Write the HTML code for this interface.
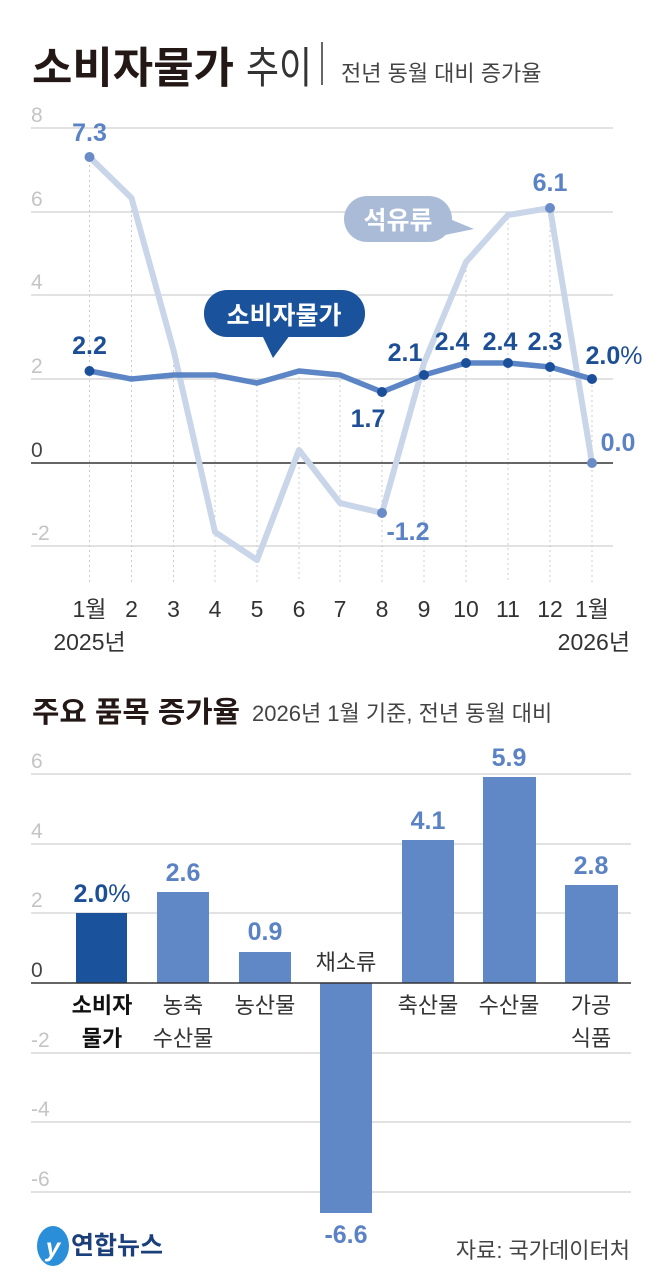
<!DOCTYPE html>
<html><head><meta charset="utf-8"><style>
html,body{margin:0;padding:0;background:#fff}
svg{display:block}
text{font-family:"Liberation Sans","Noto Sans CJK KR",sans-serif}
.ax{fill:#c4c4c4;font-size:21px}
.xl{fill:#333;font-size:23px}
.nv{fill:#1d4f97;font-size:25px;font-weight:bold}
.lb{fill:#5a82c4;font-size:25px;font-weight:bold}
.cat{fill:#333;font-size:22px}
</style></head><body>
<svg width="655" height="1278" viewBox="0 0 655 1278" xmlns="http://www.w3.org/2000/svg">
<text x="32" y="83" font-size="43" font-weight="bold" fill="#231815" textLength="202" lengthAdjust="spacingAndGlyphs">소비자물가</text>
<text x="246" y="83" font-size="43" fill="#333" textLength="66" lengthAdjust="spacingAndGlyphs">추이</text>
<line x1="322" y1="42" x2="322" y2="85" stroke="#333" stroke-width="1.5"/>
<text x="341" y="81" font-size="22" fill="#444">전년 동월 대비 증가율</text>

<g stroke="#d0d0d0" stroke-width="1.2">
<line x1="31" y1="128" x2="613" y2="128"/><line x1="31" y1="212" x2="613" y2="212"/>
<line x1="31" y1="295" x2="613" y2="295"/><line x1="31" y1="379" x2="613" y2="379"/>
<line x1="31" y1="546" x2="613" y2="546"/>
</g>
<g stroke="#ccc" stroke-width="1" stroke-dasharray="2,3">
<line x1="89.5" y1="160" x2="89.5" y2="582"/><line x1="131.5" y1="200" x2="131.5" y2="582"/>
<line x1="173.5" y1="350" x2="173.5" y2="582"/><line x1="215" y1="375" x2="215" y2="582"/>
<line x1="257" y1="380" x2="257" y2="582"/><line x1="299" y1="372" x2="299" y2="582"/>
<line x1="340" y1="375" x2="340" y2="582"/><line x1="382" y1="390" x2="382" y2="582"/>
<line x1="424" y1="375" x2="424" y2="582"/><line x1="466" y1="265" x2="466" y2="582"/>
<line x1="508" y1="218" x2="508" y2="582"/><line x1="550" y1="210" x2="550" y2="582"/>
<line x1="592" y1="380" x2="592" y2="582"/>
</g>
<line x1="31" y1="463" x2="613" y2="463" stroke="#333" stroke-width="1.5"/>
<text class="ax" x="31" y="122">8</text><text class="ax" x="31" y="206">6</text>
<text class="ax" x="31" y="289">4</text><text class="ax" x="31" y="373">2</text>
<text class="ax" x="31" y="457" style="fill:#444">0</text><text class="ax" x="31" y="540">-2</text>

<polyline fill="none" stroke="#c9d5e8" stroke-width="6" stroke-linejoin="round"
points="89.5,157 131.5,198 173.5,350 215,532 257,560 299,450 340,503 382,513 424,363 466,262 508,215 550,208 592,463"/>
<polyline fill="none" stroke="#5b85c5" stroke-width="5.5" stroke-linejoin="round"
points="89.5,371 131.5,379 173.5,375 215,375 257,383 299,371 340,375 382,392 424,375 466,363 508,363 550,367 592,379"/>
<g fill="#6a8bc8"><circle cx="89.5" cy="157" r="5"/><circle cx="382" cy="513" r="5"/><circle cx="550" cy="208" r="5"/><circle cx="592" cy="463" r="5"/></g>
<g fill="#1b4f9a"><circle cx="89.5" cy="371" r="5"/><circle cx="382" cy="392" r="5"/><circle cx="424" cy="375" r="5"/><circle cx="466" cy="363" r="5"/><circle cx="508" cy="363" r="5"/><circle cx="550" cy="367" r="5"/><circle cx="592" cy="379" r="5"/></g>

<rect x="204" y="290" width="161" height="47" rx="23" fill="#1b529c"/>
<polygon points="262,335 290,335 273,358" fill="#1b529c"/>
<text x="284" y="324" font-size="25" font-weight="bold" fill="#fff" text-anchor="middle">소비자물가</text>
<rect x="344" y="196" width="108" height="46" rx="23" fill="#aabbd8"/>
<polygon points="440,215 474,229 440,236" fill="#aabbd8"/>
<text x="398" y="229" font-size="25" font-weight="bold" fill="#fff" text-anchor="middle">석유류</text>

<text class="lb" x="89.5" y="141" text-anchor="middle">7.3</text>
<text class="lb" x="550" y="191" text-anchor="middle">6.1</text>
<text class="lb" x="408" y="540" text-anchor="middle">-1.2</text>
<text class="lb" x="618" y="451" text-anchor="middle">0.0</text>
<text class="nv" x="89.5" y="354" text-anchor="middle">2.2</text>
<text class="nv" x="368" y="427" text-anchor="middle">1.7</text>
<text class="nv" x="405" y="361" text-anchor="middle">2.1</text>
<text class="nv" x="452" y="350" text-anchor="middle">2.4</text>
<text class="nv" x="500" y="350" text-anchor="middle">2.4</text>
<text class="nv" x="545" y="350" text-anchor="middle">2.3</text>
<text class="nv" x="614" y="364" text-anchor="middle">2.0<tspan font-weight="normal">%</tspan></text>

<g class="xl" text-anchor="middle">
<text x="89.5" y="617">1월</text><text x="131.5" y="617">2</text><text x="173.5" y="617">3</text>
<text x="215" y="617">4</text><text x="257" y="617">5</text><text x="299" y="617">6</text>
<text x="340" y="617">7</text><text x="382" y="617">8</text><text x="424" y="617">9</text>
<text x="466" y="617">10</text><text x="508" y="617">11</text><text x="550" y="617">12</text>
<text x="592" y="617">1월</text>
<text x="89.5" y="650">2025년</text>
</g>
<text class="xl" x="630" y="650" text-anchor="end">2026년</text>

<text x="32" y="722" font-size="29" font-weight="bold" fill="#231815" textLength="208" lengthAdjust="spacingAndGlyphs">주요 품목 증가율</text>
<text x="252" y="721" font-size="22" fill="#444">2026년 1월 기준, 전년 동월 대비</text>

<g stroke="#d0d0d0" stroke-width="1.2">
<line x1="31" y1="774" x2="631" y2="774"/><line x1="31" y1="844" x2="631" y2="844"/>
<line x1="31" y1="913" x2="631" y2="913"/><line x1="31" y1="1053" x2="631" y2="1053"/>
<line x1="31" y1="1122" x2="631" y2="1122"/><line x1="31" y1="1192" x2="631" y2="1192"/>
</g>
<text class="ax" x="31" y="768">6</text><text class="ax" x="31" y="838">4</text>
<text class="ax" x="31" y="907">2</text><text class="ax" x="31" y="977" style="fill:#444">0</text>
<text class="ax" x="31" y="1047">-2</text><text class="ax" x="31" y="1116">-4</text><text class="ax" x="31" y="1186">-6</text>

<rect x="76" y="913" width="51" height="70" fill="#1b529c"/>
<g fill="#6088c6">
<rect x="157" y="892" width="52" height="91"/>
<rect x="239" y="952" width="52" height="31"/>
<rect x="320" y="983" width="52" height="230"/>
<rect x="402" y="840" width="52" height="143"/>
<rect x="483" y="777" width="53" height="206"/>
<rect x="565" y="885" width="53" height="98"/>
</g>
<line x1="31" y1="983" x2="631" y2="983" stroke="#333" stroke-width="1.5"/>

<text class="nv" x="102" y="902" text-anchor="middle">2.0<tspan font-weight="normal">%</tspan></text>
<g class="lb" text-anchor="middle">
<text x="183" y="881">2.6</text><text x="265" y="940">0.9</text>
<text x="428" y="829">4.1</text><text x="509" y="766">5.9</text>
<text x="591" y="874">2.8</text><text x="346" y="1243">-6.6</text>
</g>
<g class="cat" text-anchor="middle">
<text x="102" y="1013" font-weight="bold" fill="#111">소비자</text>
<text x="102" y="1046" font-weight="bold" fill="#111">물가</text>
<text x="183" y="1013">농축</text><text x="183" y="1046">수산물</text>
<text x="265" y="1013">농산물</text>
<text x="346" y="970">채소류</text>
<text x="428" y="1013">축산물</text>
<text x="509" y="1013">수산물</text>
<text x="591" y="1013">가공</text><text x="591" y="1046">식품</text>
</g>

<ellipse cx="53" cy="1246" rx="16" ry="20" fill="#2a8fd8"/>
<text x="53" y="1256" font-size="26" font-style="italic" font-weight="bold" fill="#fff" text-anchor="middle">y</text>
<text x="71" y="1254" font-size="25" font-weight="bold" fill="#1a3f7a">연합뉴스</text>
<text x="630" y="1258" font-size="22" fill="#444" text-anchor="end">자료: 국가데이터처</text>
</svg>
</body></html>
